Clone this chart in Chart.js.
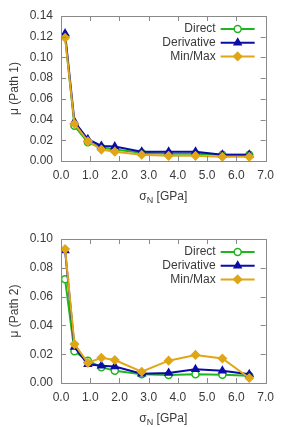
<!DOCTYPE html>
<html>
<head>
<meta charset="utf-8">
<script src="https://cdn.jsdelivr.net/npm/chart.js@4.4.1/dist/chart.umd.min.js"></script>
<style>
  body { margin: 0; background: #fff; }
  .box { position: relative; width: 281px; }
</style>
</head>
<body>
<div class="box" style="height:210px"><canvas id="path1"></canvas></div>
<div class="box" style="height:217px"><canvas id="path2"></canvas></div>
<script>
// x values (normal stress, GPa)
let sigmaN = [0.14, 0.46, 0.92, 1.38, 1.84, 2.76, 3.68, 4.60, 5.52, 6.44];
let seriesNames = ['Direct', 'Derivative', 'Min/Max'];
let xTicks = ['0.0', '1.0', '2.0', '3.0', '4.0', '5.0', '6.0', '7.0'];

// Path 1
let directP1 = [0.120, 0.034, 0.018, 0.013, 0.011, 0.008, 0.007, 0.007, 0.006, 0.006];
let derivP1 = [0.123, 0.038, 0.021, 0.0145, 0.014, 0.009, 0.009, 0.009, 0.006, 0.006];
let minmaxP1 = [0.119, 0.036, 0.019, 0.011, 0.009, 0.006, 0.005, 0.005, 0.004, 0.004];

// Path 2
let directP2 = [0.072, 0.022, 0.0155, 0.011, 0.0085, 0.006, 0.0055, 0.006, 0.0058, 0.005];
let derivP2 = [0.092, 0.025, 0.013, 0.012, 0.0115, 0.0065, 0.007, 0.0095, 0.0085, 0.006];
let minmaxP2 = [0.093, 0.027, 0.014, 0.0175, 0.016, 0.0078, 0.0155, 0.0195, 0.017, 0.0035];

let colors = ['#1fb51f', '#0c0ca6', '#e0a617'];
let styles = [
    { pointStyle: 'circle', bg: '#ffffff', radius: 3.5 },
    { pointStyle: 'triangle', bg: colors[1], radius: 4 },
    { pointStyle: 'rectRot', bg: colors[2], radius: 4 }
];
let orders = [2, 1, 0];
let textColor = '#3a3a3a';
let fontFamily = '"Liberation Sans", Arial, sans-serif';

function makeDatasets(values) {
    return values.map((vals, i) => ({
        label: seriesNames[i],
        data: sigmaN.map((x, j) => ({ x: x, y: vals[j] })),
        borderColor: colors[i],
        backgroundColor: styles[i].bg,
        pointBackgroundColor: styles[i].bg,
        pointBorderColor: colors[i],
        pointStyle: styles[i].pointStyle,
        pointRadius: styles[i].radius,
        pointBorderWidth: 1.5,
        borderWidth: 2,
        order: orders[i],
        tension: 0
    }));
}

// frame, inward ticks on all sides, legend inside plot, x title with subscript
const framePlugin = {
    id: 'frame',
    afterDatasetsDraw(chart) {
        const c = chart.ctx, a = chart.chartArea;
        const xs = chart.scales.x, ys = chart.scales.y;
        c.save();
        c.strokeStyle = '#8a8a8a';
        c.lineWidth = 1;
        c.beginPath();
        xs.ticks.forEach(t => {
            const px = Math.round(xs.getPixelForValue(t.value)) + 0.5;
            c.moveTo(px, a.bottom); c.lineTo(px, a.bottom - 5);
            c.moveTo(px, a.top); c.lineTo(px, a.top + 5);
        });
        ys.ticks.forEach(t => {
            const py = Math.round(ys.getPixelForValue(t.value)) + 0.5;
            c.moveTo(a.left, py); c.lineTo(a.left + 5, py);
            c.moveTo(a.right, py); c.lineTo(a.right - 5, py);
        });
        c.stroke();
        c.strokeRect(Math.round(a.left) + 0.5, Math.round(a.top) + 0.5,
            Math.round(a.right - a.left), Math.round(a.bottom - a.top));

        // legend
        c.font = '12px ' + fontFamily;
        c.textAlign = 'right';
        c.textBaseline = 'middle';
        chart.data.datasets.forEach((ds, i) => {
            const y = a.top + 13 + i * 13.7;
            const x0 = a.right - 45, x1 = a.right - 11;
            c.fillStyle = textColor;
            c.fillText(ds.label, a.right - 50, y);
            c.strokeStyle = ds.borderColor;
            c.lineWidth = 2;
            c.beginPath(); c.moveTo(x0, y); c.lineTo(x1, y); c.stroke();
            c.fillStyle = ds.pointBackgroundColor;
            c.lineWidth = 1.5;
            Chart.helpers.drawPoint(c, { pointStyle: ds.pointStyle, radius: ds.pointRadius, borderWidth: 1.5, rotation: 0 }, (x0 + x1) / 2, y);
        });

        // x title: sigma_N [GPa]
        const cx = (a.left + a.right) / 2;
        const ty = chart.options.plugins.frame.titleY;
        c.fillStyle = textColor;
        c.textAlign = 'left';
        c.textBaseline = 'middle';
        const w1 = c.measureText('σ').width;
        c.font = '9px ' + fontFamily;
        const w2 = c.measureText('N').width;
        c.font = '12px ' + fontFamily;
        const w3 = c.measureText(' [GPa]').width;
        let x = cx - (w1 + w2 + w3) / 2;
        c.fillText('σ', x, ty);
        c.font = '9px ' + fontFamily;
        c.fillText('N', x + w1, ty + 4);
        c.font = '12px ' + fontFamily;
        c.fillText(' [GPa]', x + w1 + w2, ty);
        c.restore();
    }
};

function drawChart(id, values, yMax, yTitle, opts) {
    const ctx = document.getElementById(id);
    if (ctx == null) {
        console.warn('Can not find element ' + id);
        return;
    }
    new Chart(ctx.getContext('2d'), {
        type: 'line',
        data: { datasets: makeDatasets(values) },
        options: {
            maintainAspectRatio: false,
            animation: false,
            layout: { padding: { top: opts.top, right: opts.right, left: 0, bottom: 0 } },
            plugins: {
                legend: { display: false },
                tooltip: { enabled: false },
                frame: { titleY: opts.titleY }
            },
            scales: {
                x: {
                    type: 'linear',
                    min: 0,
                    max: 7,
                    grid: { display: false, drawTicks: false },
                    border: { display: false },
                    ticks: {
                        stepSize: 1,
                        padding: 7,
                        color: textColor,
                        font: { family: fontFamily, size: 12 },
                        callback: (v, i) => xTicks[i]
                    },
                    afterFit: s => { s.height = opts.xHeight; }
                },
                y: {
                    min: 0,
                    max: yMax,
                    grid: { display: false, drawTicks: false },
                    border: { display: false },
                    ticks: {
                        stepSize: 0.02,
                        padding: 8,
                        color: textColor,
                        font: { family: fontFamily, size: 12 },
                        callback: v => v.toFixed(2)
                    },
                    title: {
                        display: true,
                        text: yTitle,
                        color: textColor,
                        font: { family: fontFamily, size: 12 },
                        padding: { top: 7, bottom: 0 }
                    },
                    afterFit: s => { s.width = 61; }
                }
            }
        },
        plugins: [framePlugin]
    });
}

drawChart('path1', [directP1, derivP1, minmaxP1], 0.14, 'μ (Path 1)',
    { top: 16, right: 13, xHeight: 49, titleY: 197 });
drawChart('path2', [directP2, derivP2, minmaxP2], 0.10, 'μ (Path 2)',
    { top: 29, right: 11, xHeight: 44, titleY: 209 });
</script>
</body>
</html>
